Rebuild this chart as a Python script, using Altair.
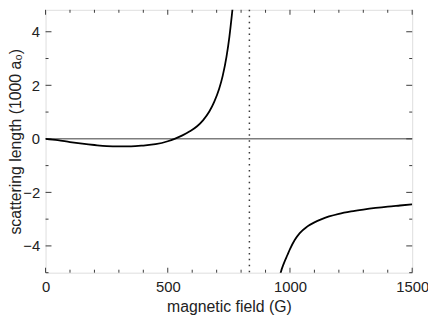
import altair as alt
import pandas as pd

# --- data ---
left_B = [0, 50, 100, 150, 200, 250, 300, 350, 400, 450, 500, 528, 560, 590, 620, 645, 670, 690, 710, 725, 740, 752, 762, 770]
left_a = [0, -0.05, -0.12, -0.18, -0.23, -0.27, -0.28, -0.28, -0.25, -0.20, -0.09, 0.0, 0.13, 0.28, 0.47, 0.70, 1.02, 1.38, 1.86, 2.36, 3.05, 3.80, 4.60, 5.30]
right_B = [955, 962, 975, 990, 1000, 1020, 1040, 1070, 1100, 1130, 1160, 1200, 1250, 1300, 1350, 1400, 1450, 1500]
right_a = [-5.3, -5.0, -4.65, -4.33, -4.12, -3.77, -3.52, -3.28, -3.12, -3.00, -2.90, -2.80, -2.71, -2.64, -2.58, -2.53, -2.49, -2.45]
resonance_B = [834]
x_major = [0, 500, 1000, 1500]
x_minor = [100, 200, 300, 400, 600, 700, 800, 900, 1100, 1200, 1300, 1400]
y_major = [-4, -2, 0, 2, 4]
y_minor = [-5, -3, -1, 1, 3]

W, H = 371, 266
FONT = "Liberation Sans"
INK = "#222222"
FRAME = "#3a3a3a"

curve = pd.DataFrame({
    "B": left_B + right_B,
    "a": left_a + right_a,
    "branch": ["below"] * len(left_B) + ["above"] * len(right_B),
})

xs = alt.Scale(domain=[0, 1500], nice=False, zero=False)
ys = alt.Scale(domain=[-5, 4.82], nice=False, zero=False)

x_enc = alt.X("B:Q", scale=xs, title="magnetic field (G)",
              axis=alt.Axis(values=x_major, ticks=False, domain=False, grid=False,
                            labelFontSize=15, labelPadding=7, labelColor=INK, labelFont=FONT,
                            titleFont=FONT, titleFontSize=16, titleFontWeight="normal",
                            titleColor=INK, titleX=W / 2, titleY=39,
                            titleBaseline="alphabetic", labelFlush=False, format="d"))
y_enc = alt.Y("a:Q", scale=ys, title="scattering length (1000 a\u2080)",
              axis=alt.Axis(values=y_major, ticks=False, domain=False, grid=False,
                            labelFontSize=15, labelPadding=6, labelColor=INK, labelFont=FONT,
                            titleFont=FONT, titleFontSize=16, titleFontWeight="normal",
                            titleColor=INK, titleX=-22, titleY=H / 2, titleAngle=270,
                            titleBaseline="bottom", labelFlush=False, format="d"))

line = alt.Chart(curve).mark_line(color="black", strokeWidth=1.8, clip=True,
                                  interpolate="monotone").encode(
    x=x_enc, y=y_enc, detail="branch:N")

zero = alt.Chart(pd.DataFrame({"a": [0]})).mark_rule(color=FRAME, strokeWidth=1).encode(
    y=alt.Y("a:Q", scale=ys))

dotted = alt.Chart(pd.DataFrame({"B": resonance_B})).mark_rule(
    color=FRAME, strokeWidth=1.5, strokeDash=[1.5, 4.5]).encode(x=alt.X("B:Q", scale=xs))

def xticks(vals, length):
    d = pd.DataFrame({"B": vals})
    bottom = alt.Chart(d).mark_rule(color=FRAME, strokeWidth=1).encode(
        x=alt.X("B:Q", scale=xs), y=alt.value(H), y2=alt.value(H - length))
    top = alt.Chart(d).mark_rule(color=FRAME, strokeWidth=1).encode(
        x=alt.X("B:Q", scale=xs), y=alt.value(0), y2=alt.value(length))
    return bottom + top

def yticks(vals, length):
    d = pd.DataFrame({"a": vals})
    left = alt.Chart(d).mark_rule(color=FRAME, strokeWidth=1).encode(
        y=alt.Y("a:Q", scale=ys), x=alt.value(0), x2=alt.value(length))
    right = alt.Chart(d).mark_rule(color=FRAME, strokeWidth=1).encode(
        y=alt.Y("a:Q", scale=ys), x=alt.value(W), x2=alt.value(W - length))
    return left + right

chart = alt.layer(
    zero, dotted,
    xticks(x_major, 5), xticks(x_minor, 3),
    yticks(y_major, 6), yticks(y_minor, 3),
    line,
).properties(
    width=W, height=H,
    autosize=alt.AutoSizeParams(type="none"),
    padding={"left": 38, "top": 0, "right": 16, "bottom": 42},
).configure_view(
    stroke=FRAME, strokeWidth=1.5
).configure(background="white")

chart.save("out.html", embed_options={"renderer": "svg", "actions": False})
